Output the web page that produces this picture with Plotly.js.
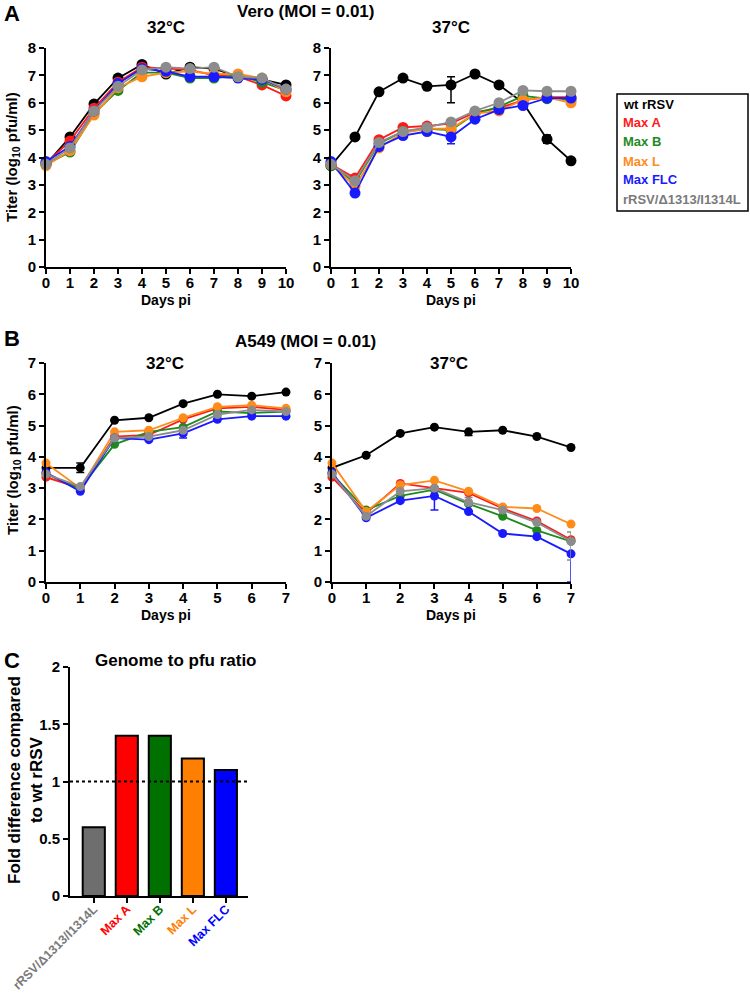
<!DOCTYPE html>
<html>
<head>
<meta charset="utf-8">
<script src="https://cdn.plot.ly/plotly-3.0.1.min.js"></script>
<style>
  body { margin: 0; background: #fff; }
  #plot { width: 750px; height: 994px; }
</style>
</head>
<body>
<div id="plot"></div>
<script>
// strains in legend order
const strains = ["wt rRSV", "Max A", "Max B", "Max L", "Max FLC", "rRSV/\u03941313/I1314L"];
const lineColors = ["#000000", "#ff1a1a", "#1e8a1e", "#ff8c1a", "#1a1aff", "#8c8c8c"];
const textColors = ["#000000", "#ff1a1a", "#1e8a1e", "#ff8c1a", "#1a1aff", "#7a7a7a"];

const veroDays = [0, 1, 2, 3, 4, 5, 6, 7, 8, 9, 10];
const a549Days = [0, 1, 2, 3, 4, 5, 6, 7];

// log10 pfu/ml, one row per strain
const vero32 = [
  [3.75, 4.75, 5.95, 6.9, 7.4, 7.05, 7.3, 7.25, 6.95, 6.85, 6.65],
  [3.8, 4.6, 5.8, 6.75, 7.3, 7.25, 7.2, 7.0, 6.95, 6.65, 6.25],
  [3.75, 4.2, 5.6, 6.45, 7.1, 7.1, 6.9, 6.9, 7.0, 6.75, 6.45],
  [3.7, 4.25, 5.55, 6.55, 6.95, 7.1, 7.15, 7.05, 7.05, 6.9, 6.4],
  [3.85, 4.4, 5.7, 6.7, 7.25, 7.15, 6.95, 6.95, 6.9, 6.85, 6.5],
  [3.75, 4.35, 5.7, 6.6, 7.2, 7.3, 7.25, 7.3, 6.95, 6.9, 6.5]
];
const vero37 = [
  [3.7, 4.75, 6.4, 6.9, 6.6, 6.65, 7.05, 6.65, 6.0, 4.67, 3.88],
  [3.75, 3.25, 4.65, 5.1, 5.15, 5.25, 5.65, 5.8, 6.1, 6.2, 6.2],
  [3.7, 3.1, 4.5, 4.95, 5.05, 5.0, 5.6, 5.85, 6.25, 6.15, 6.1],
  [3.75, 2.95, 4.35, 4.9, 5.05, 5.05, 5.6, 5.7, 6.1, 6.2, 6.0],
  [3.85, 2.7, 4.4, 4.8, 4.95, 4.75, 5.4, 5.75, 5.9, 6.17, 6.17],
  [3.75, 3.15, 4.55, 4.95, 5.1, 5.3, 5.7, 6.0, 6.45, 6.42, 6.42]
];
const a54932 = [
  [3.65, 3.65, 5.17, 5.25, 5.7, 6.0, 5.94, 6.07],
  [3.35, 3.0, 4.65, 4.7, 5.2, 5.55, 5.6, 5.5],
  [3.45, 3.0, 4.4, 4.8, 4.95, 5.45, 5.4, 5.45],
  [3.8, 3.0, 4.8, 4.85, 5.25, 5.6, 5.65, 5.55],
  [3.5, 2.9, 4.6, 4.55, 4.75, 5.2, 5.3, 5.3],
  [3.45, 3.05, 4.6, 4.65, 4.85, 5.35, 5.5, 5.45]
];
const a54937 = [
  [3.65, 4.05, 4.75, 4.95, 4.8, 4.85, 4.65, 4.3],
  [3.35, 2.2, 3.15, 3.0, 2.85, 2.35, 1.95, 1.35],
  [3.45, 2.3, 2.75, 2.95, 2.5, 2.1, 1.65, 1.3],
  [3.8, 2.25, 3.1, 3.25, 2.9, 2.4, 2.35, 1.85],
  [3.5, 2.05, 2.6, 2.75, 2.25, 1.55, 1.45, 0.9],
  [3.45, 2.1, 2.9, 3.0, 2.55, 2.3, 1.9, 1.3]
];

// error bars: [strain, day, up, down]
const vero32Err = [[2, 6, 0, 0.1], [4, 6, 0, 0.08], [2, 7, 0, 0.06], [4, 8, 0, 0.12]];
const vero37Err = [[0, 5, 0.3, 0.65], [0, 9, 0.15, 0.15], [4, 5, 0, 0.25]];
const a54932Err = [[0, 1, 0.15, 0.15], [4, 4, 0, 0.15]];
const a54937Err = [[0, 4, 0, 0.12], [4, 3, 0, 0.45], [5, 4, 0.15, 0.1], [5, 7, 0.3, 0.6], [4, 7, 0, 0.9]];

// genome to pfu ratio
const ratioStrains = ["rRSV/\u03941313/I1314L", "Max A", "Max B", "Max L", "Max FLC"];
const ratioValues = [0.6, 1.4, 1.4, 1.2, 1.1];
const barColors = ["#6e6e6e", "#ff0000", "#007000", "#ff8000", "#0000ff"];
const ratioTextColors = ["#7a7a7a", "#ff0000", "#007000", "#ff8000", "#0000ff"];

const W = 750, H = 994;
const px = (x) => x / W;
const py = (y) => 1 - y / H;
const FONT = 'Arial, "Liberation Sans", sans-serif';

function errArrays(errList, strain, n) {
  const up = new Array(n).fill(0);
  const down = new Array(n).fill(0);
  for (const e of errList) {
    if (e[0] === strain) {
      up[e[1]] = e[2];
      down[e[1]] = e[3];
    }
  }
  return [up, down];
}

function growthTraces(days, rows, errList, ax, msize) {
  const traces = [];
  // wt drawn first, gray last
  for (let i = 0; i < rows.length; i++) {
    const [up, down] = errArrays(errList, i, days.length);
    traces.push({
      x: days,
      y: rows[i],
      xaxis: "x" + ax,
      yaxis: "y" + ax,
      mode: "lines+markers",
      name: strains[i],
      showlegend: false,
      cliponaxis: false,
      line: { color: lineColors[i], width: 1.8 },
      marker: { color: lineColors[i], size: msize },
      error_y: {
        type: "data",
        symmetric: false,
        array: up,
        arrayminus: down,
        color: lineColors[i],
        thickness: 1.5,
        width: 4,
      },
    });
  }
  return traces;
}

const traces = [
  ...growthTraces(veroDays, vero32, vero32Err, "", 11),
  ...growthTraces(veroDays, vero37, vero37Err, "2", 11),
  ...growthTraces(a549Days, a54932, a54932Err, "3", 9),
  ...growthTraces(a549Days, a54937, a54937Err, "4", 9),
];

traces.push({
  type: "bar",
  x: [0, 1, 2, 3, 4],
  y: ratioValues,
  xaxis: "x5",
  yaxis: "y5",
  width: 0.67,
  showlegend: false,
  marker: { color: barColors, line: { color: "#000", width: 2 } },
});

const tickFont = { family: FONT, size: 15, color: "#000", weight: "bold" };

function xAxis(x0, x1, range, anchor, extra) {
  return Object.assign({
    domain: [px(x0), px(x1)],
    range: range,
    anchor: anchor,
    dtick: 1,
    showgrid: false,
    zeroline: false,
    showline: true,
    linewidth: 2,
    linecolor: "#000",
    ticks: "outside",
    ticklen: 5,
    tickwidth: 2,
    tickcolor: "#000",
    ticklabelstandoff: -4,
    tickfont: tickFont,
  }, extra || {});
}

function yAxis(y0, y1, range, anchor, dtick) {
  return {
    domain: [py(y1), py(y0)],
    range: range,
    anchor: anchor,
    dtick: dtick,
    showgrid: false,
    zeroline: false,
    showline: true,
    linewidth: 2,
    linecolor: "#000",
    ticks: "outside",
    ticklen: 5,
    tickwidth: 2,
    tickcolor: "#000",
    tickfont: tickFont,
  };
}

function label(text, x, y, size, extra) {
  return Object.assign({
    text: text,
    x: px(x),
    y: py(y),
    xref: "paper",
    yref: "paper",
    showarrow: false,
    xanchor: "center",
    yanchor: "middle",
    font: { family: FONT, size: size, color: "#000", weight: "bold" },
  }, extra || {});
}

const annotations = [
  label("A", 12, 14, 22),
  label("Vero (MOI = 0.01)", 305, 11, 17),
  label("32°C", 166, 27, 17),
  label("37°C", 451, 27, 17),
  label("Titer (log<sub>10</sub> pfu/ml)", 13, 157, 15, { textangle: -90 }),
  label("Days pi", 166, 300, 14),
  label("Days pi", 451, 300, 14),
  label("B", 12, 338, 22),
  label("A549 (MOI = 0.01)", 305, 342, 17),
  label("32°C", 165, 363, 17),
  label("37°C", 449, 363, 17),
  label("Titer (log<sub>10</sub> pfu/ml)", 13, 470, 15, { textangle: -90 }),
  label("Days pi", 166, 615, 14),
  label("Days pi", 451, 615, 14),
  label("C", 12, 660, 22),
  label("Genome to pfu ratio", 176, 660, 17),
  label("Fold difference compared<br>to wt rRSV", 25, 780, 17, { textangle: -90 }),
];

// legend as coloured text in a box
strains.forEach((s, i) => {
  annotations.push(label(s, 621, 104 + i * 19, 13, {
    xanchor: "left",
    font: { family: FONT, size: 13, color: textColors[i], weight: "bold" },
  }));
});

const shapes = [
  {
    type: "rect",
    xref: "paper",
    yref: "paper",
    x0: px(617), x1: px(748),
    y0: py(211), y1: py(94),
    line: { color: "#000", width: 1.5 },
  },
  {
    type: "line",
    xref: "x5 domain",
    yref: "y5",
    x0: 0, x1: 1,
    y0: 1, y1: 1,
    line: { color: "#000", width: 2, dash: "dot" },
  },
];

const layout = {
  width: W,
  height: H,
  margin: { l: 0, r: 0, t: 0, b: 0 },
  paper_bgcolor: "#fff",
  plot_bgcolor: "rgba(0,0,0,0)",
  showlegend: false,
  font: { family: FONT, color: "#000" },
  xaxis: xAxis(46, 286, [0, 10], "y"),
  yaxis: yAxis(48, 267, [0, 8], "x", 1),
  xaxis2: xAxis(331, 571, [0, 10], "y2"),
  yaxis2: yAxis(48, 267, [0, 8], "x2", 1),
  xaxis3: xAxis(46, 286, [0, 7], "y3"),
  yaxis3: yAxis(363, 582, [0, 7], "x3", 1),
  xaxis4: xAxis(332, 571, [0, 7], "y4"),
  yaxis4: yAxis(363, 582, [0, 7], "x4", 1),
  xaxis5: xAxis(70, 248, [-0.72, 4.67], "y5", {
    tickvals: [0, 1, 2, 3, 4],
    ticktext: ratioStrains.map((s, i) => `<span style="color:${ratioTextColors[i]}">${s}</span>`),
    tickangle: -45,
    ticklabelstandoff: -6,
    ticklabeloverflow: "allow",
    tickfont: { family: FONT, size: 12.5, color: "#000", weight: "bold" },
  }),
  yaxis5: yAxis(667, 896, [0, 2], "x5", 0.5),
  annotations: annotations,
  shapes: shapes,
};

Plotly.newPlot("plot", traces, layout, { displayModeBar: false, staticPlot: true });
</script>
</body>
</html>
